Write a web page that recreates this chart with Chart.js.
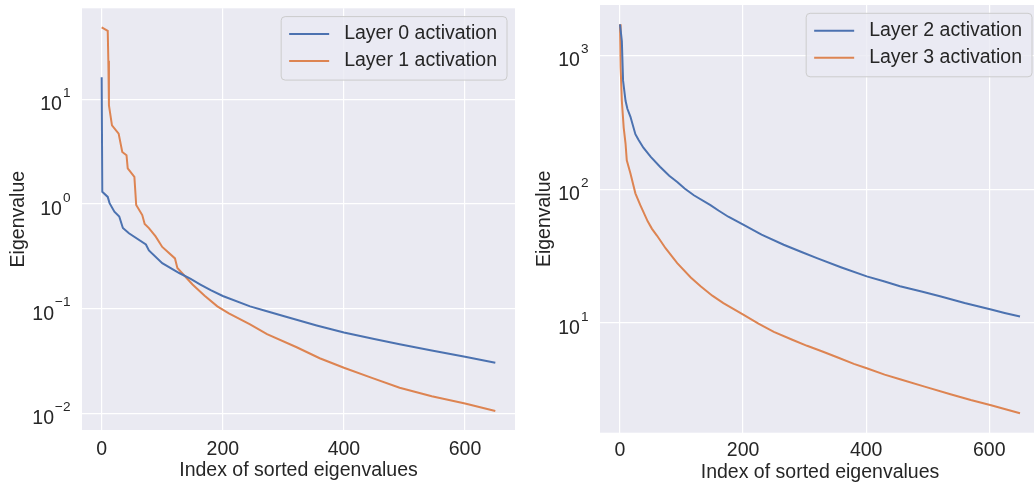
<!DOCTYPE html>
<html>
<head>
<meta charset="utf-8">
<script src="https://cdn.jsdelivr.net/npm/chart.js@4.4.0/dist/chart.umd.min.js"></script>
<style>
  html, body { margin: 0; padding: 0; background: #fff; overflow: hidden; }
  #wrap { position: relative; width: 1034px; height: 489px; overflow: hidden; }
  #left { position: absolute; left: 0; top: 0; }
  #right { position: absolute; left: 530px; top: 0; }
</style>
</head>
<body>
<div id="wrap">
  <canvas id="left" width="530" height="489"></canvas>
  <canvas id="right" width="520" height="489"></canvas>
</div>
<script>
// eigenvalue spectra (index, value)
let idx0 = [0, 1, 10, 13, 21, 29, 35, 45, 73, 78, 100, 128, 147, 163, 180, 200, 245, 270, 300, 355, 400, 450, 492, 545, 600, 650];
let layer0 = [16.3, 1.31, 1.17, 1.02, 0.845, 0.76, 0.59, 0.525, 0.41, 0.36, 0.272, 0.219, 0.192, 0.17, 0.15, 0.132, 0.105, 0.0955, 0.085, 0.069, 0.059, 0.0513, 0.0457, 0.0398, 0.0347, 0.0304];

let idx1 = [0, 10, 11, 12, 17, 28, 34, 41, 43, 54, 57, 67, 71, 78, 89, 100, 121, 125, 150, 170, 191, 210, 245, 273, 322, 360, 400, 445, 492, 545, 600, 650];
let layer1 = [48.9, 45.4, 23.5, 8.77, 5.65, 4.71, 3.15, 2.93, 2.19, 1.82, 0.98, 0.785, 0.645, 0.589, 0.49, 0.389, 0.302, 0.245, 0.17, 0.133, 0.105, 0.0902, 0.0708, 0.0569, 0.0427, 0.0335, 0.0272, 0.0219, 0.0175, 0.0145, 0.01236, 0.0105];

let idx2 = [0, 3, 5, 9, 12, 17, 25, 30, 38, 50, 65, 80, 93, 105, 120, 147, 160, 176, 201, 230, 266, 295, 320, 360, 401, 430, 455, 490, 520, 560, 603, 625, 650];
let layer2 = [1700, 1276, 646, 457, 398, 347, 257, 234, 204, 174, 147, 126, 113, 101, 90, 76, 69.2, 62.2, 54, 45.7, 38.4, 33.9, 30.5, 26, 22.3, 20.4, 18.8, 17.2, 15.85, 14.1, 12.6, 11.9, 11.2];

let idx3 = [0, 1, 3, 6, 9, 11, 17, 25, 33, 38, 45, 52, 60, 74, 93, 115, 131, 150, 168, 201, 225, 250, 280, 304, 330, 355, 380, 401, 430, 455, 495, 537, 570, 603, 625, 650];
let layer3 = [1700, 813, 457, 288, 219, 164, 131, 93, 75.9, 67.6, 57.5, 50.5, 45, 36.2, 28, 21.9, 18.8, 16, 14.1, 11.5, 9.9, 8.6, 7.5, 6.76, 6.1, 5.5, 4.95, 4.6, 4.12, 3.8, 3.35, 2.94, 2.66, 2.43, 2.28, 2.12];

let xTicks = [0, 200, 400, 600];
let yTicksLeft = [0.01, 0.1, 1, 10];
let yTicksRight = [10, 100, 1000];

const FONT = '"Liberation Sans", Arial, sans-serif';
const TXT = '#262626';
const BLUE = '#4C72B0';
const ORANGE = '#DD8452';

Chart.defaults.font.family = FONT;
Chart.defaults.color = TXT;

function pts(xs, ys) {
  return xs.map((x, i) => ({ x: x, y: ys[i] }));
}

const bgPlugin = {
  id: 'bg',
  beforeDraw(chart) {
    const { ctx, chartArea: a } = chart;
    ctx.save();
    ctx.fillStyle = '#EAEAF2';
    ctx.fillRect(a.left, a.top, a.right - a.left, a.bottom - a.top);
    ctx.restore();
  }
};

// "10^n" tick labels like matplotlib's mathtext
const powLabels = {
  id: 'powLabels',
  afterDraw(chart) {
    const s = chart.scales.y, ctx = chart.ctx;
    const right = chart.chartArea.left - 11.5;
    ctx.save();
    ctx.fillStyle = TXT;
    ctx.textAlign = 'left';
    ctx.textBaseline = 'alphabetic';
    s.ticks.forEach(t => {
      const y = s.getPixelForValue(t.value);
      const e = String(Math.round(Math.log10(t.value))).replace('-', '\u2212');
      ctx.font = '13.6px ' + FONT;
      const ew = ctx.measureText(e).width;
      ctx.font = '19.5px ' + FONT;
      const bw = ctx.measureText('10').width;
      ctx.fillText('10', right - ew - bw - 1, y + 11);
      ctx.font = '13.6px ' + FONT;
      ctx.fillText(e, right - ew, y - 2.3);
    });
    ctx.restore();
  }
};

const boxLegend = {
  id: 'boxLegend',
  afterDraw(chart) {
    const ctx = chart.ctx, a = chart.chartArea;
    const sets = chart.data.datasets;
    ctx.save();
    ctx.font = '19.5px ' + FONT;
    const tw = Math.max(...sets.map(d => ctx.measureText(d.label).width));
    const w = 63 + tw + 10, h = 63.5;
    const x0 = a.right - 8 - w, y0 = a.top + 8.3;
    ctx.beginPath();
    ctx.roundRect(x0, y0, w, h, 4);
    ctx.fillStyle = 'rgba(234,234,242,0.8)';
    ctx.fill();
    ctx.strokeStyle = '#CCCCCC';
    ctx.lineWidth = 1;
    ctx.stroke();
    sets.forEach((d, i) => {
      const yy = y0 + 17.5 + i * 27;
      ctx.strokeStyle = d.borderColor;
      ctx.lineWidth = 2;
      ctx.beginPath();
      ctx.moveTo(x0 + 8, yy);
      ctx.lineTo(x0 + 48, yy);
      ctx.stroke();
      ctx.fillStyle = TXT;
      ctx.textBaseline = 'middle';
      ctx.fillText(d.label, x0 + 63, yy);
    });
    ctx.restore();
  }
};

function makeChart(id, sets, yMin, yMax, yTicks, g) {
  return new Chart(document.getElementById(id), {
    type: 'line',
    data: { datasets: sets },
    plugins: [bgPlugin, powLabels, boxLegend],
    options: {
      responsive: false,
      devicePixelRatio: 1,
      animation: false,
      layout: { padding: { top: g.top, right: g.right, left: 0, bottom: 0 } },
      elements: { point: { radius: 0 }, line: { borderWidth: 2, tension: 0 } },
      plugins: { legend: { display: false }, tooltip: { enabled: false } },
      scales: {
        x: {
          type: 'linear',
          min: -32.5,
          max: 682.5,
          afterBuildTicks: s => { s.ticks = xTicks.map(v => ({ value: v })); },
          afterFit: s => { s.height = g.xh; },
          grid: { color: '#ffffff', lineWidth: 1.2, drawTicks: false },
          border: { display: false },
          ticks: { padding: g.tickPad, color: TXT, font: { size: 19.5 }, maxRotation: 0 },
          title: { display: true, text: 'Index of sorted eigenvalues', color: TXT, font: { size: 19.5 }, padding: { top: 0, bottom: g.xtPad } }
        },
        y: {
          type: 'logarithmic',
          min: yMin,
          max: yMax,
          afterBuildTicks: s => { s.ticks = yTicks.map(v => ({ value: v })); },
          afterFit: s => { s.width = g.yw; },
          grid: { color: '#ffffff', lineWidth: 1.2, drawTicks: false },
          border: { display: false },
          ticks: { display: false },
          title: { display: true, text: 'Eigenvalue', color: TXT, font: { size: 19.5 }, padding: { top: g.ytPad, bottom: 0 } }
        }
      }
    }
  });
}

makeChart('left', [
  { label: 'Layer 0 activation', data: pts(idx0, layer0), borderColor: BLUE, backgroundColor: BLUE },
  { label: 'Layer 1 activation', data: pts(idx1, layer1), borderColor: ORANGE, backgroundColor: ORANGE }
], Math.pow(10, -2.161), Math.pow(10, 1.872), yTicksLeft,
  { top: 8.3, right: 15, xh: 59, yw: 82, tickPad: 8, xtPad: 7, ytPad: 6.6 });

makeChart('right', [
  { label: 'Layer 2 activation', data: pts(idx2, layer2), borderColor: BLUE, backgroundColor: BLUE },
  { label: 'Layer 3 activation', data: pts(idx3, layer3), borderColor: ORANGE, backgroundColor: ORANGE }
], Math.pow(10, 0.181), Math.pow(10, 3.375), yTicksRight,
  { top: 5, right: 10, xh: 56.3, yw: 70, tickPad: 6, xtPad: 5, ytPad: 3.3 });
</script>
</body>
</html>
